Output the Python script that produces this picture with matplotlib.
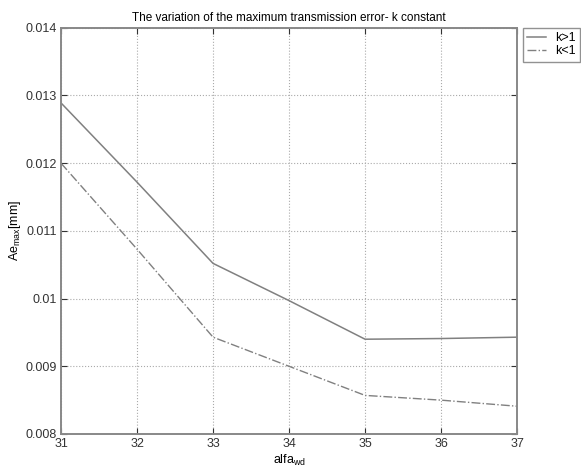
import matplotlib.pyplot as plt
import numpy as np

# Данные
alfa_wd = [31, 32, 33, 34, 35, 36, 37]
k_greater = [0.01289, 0.01172, 0.01052, 0.00997, 0.00940, 0.00941, 0.00943]
k_less = [0.01200, 0.01073, 0.00943, 0.00900, 0.00857, 0.00850, 0.00841]
xticks = [31, 32, 33, 34, 35, 36, 37]
yticks = [0.008, 0.009, 0.01, 0.011, 0.012, 0.013, 0.014]
ytick_labels = ['0.008', '0.009', '0.01', '0.011', '0.012', '0.013', '0.014']

plt.rcParams['font.family'] = ['Liberation Sans', 'DejaVu Sans']

fig = plt.figure(figsize=(5.81, 4.74), dpi=100)
ax = fig.add_axes([0.105, 0.0844, 0.785, 0.857])

ax.plot(alfa_wd, k_greater, color='#808080', linewidth=1.1, linestyle='-', label='k>1')
ax.plot(alfa_wd, k_less, color='#808080', linewidth=1.0, linestyle='-.', label='k<1')

ax.set_xlim(31, 37)
ax.set_ylim(0.008, 0.014)
ax.set_xticks(xticks)
ax.set_yticks(yticks)
ax.set_yticklabels(ytick_labels)
ax.tick_params(direction='in', labelsize=9, top=True, right=True, length=4, colors='#333333', pad=3)
ax.grid(True, linestyle=':', color='#aaaaaa', linewidth=0.8)
for s in ax.spines.values():
    s.set_color('#888888')
    s.set_linewidth(1.4)

ax.set_title('The variation of the maximum transmission error- k constant', fontsize=8.5, pad=5)
ax.set_xlabel('alfa$_{\\mathregular{wd}}$', fontsize=9, labelpad=2)
ax.set_ylabel('Ae$_{\\mathregular{max}}$[mm]', fontsize=9, labelpad=2)

leg = ax.legend(loc='upper left', bbox_to_anchor=(1.013, 1.0), fontsize=9, frameon=True,
                fancybox=False, borderaxespad=0, handlelength=1.5, borderpad=0.35, labelspacing=0.1,
                handletextpad=0.7)
leg.get_frame().set_edgecolor('#777777')
leg.get_frame().set_linewidth(1.0)

fig.savefig('out.png', dpi=100)
